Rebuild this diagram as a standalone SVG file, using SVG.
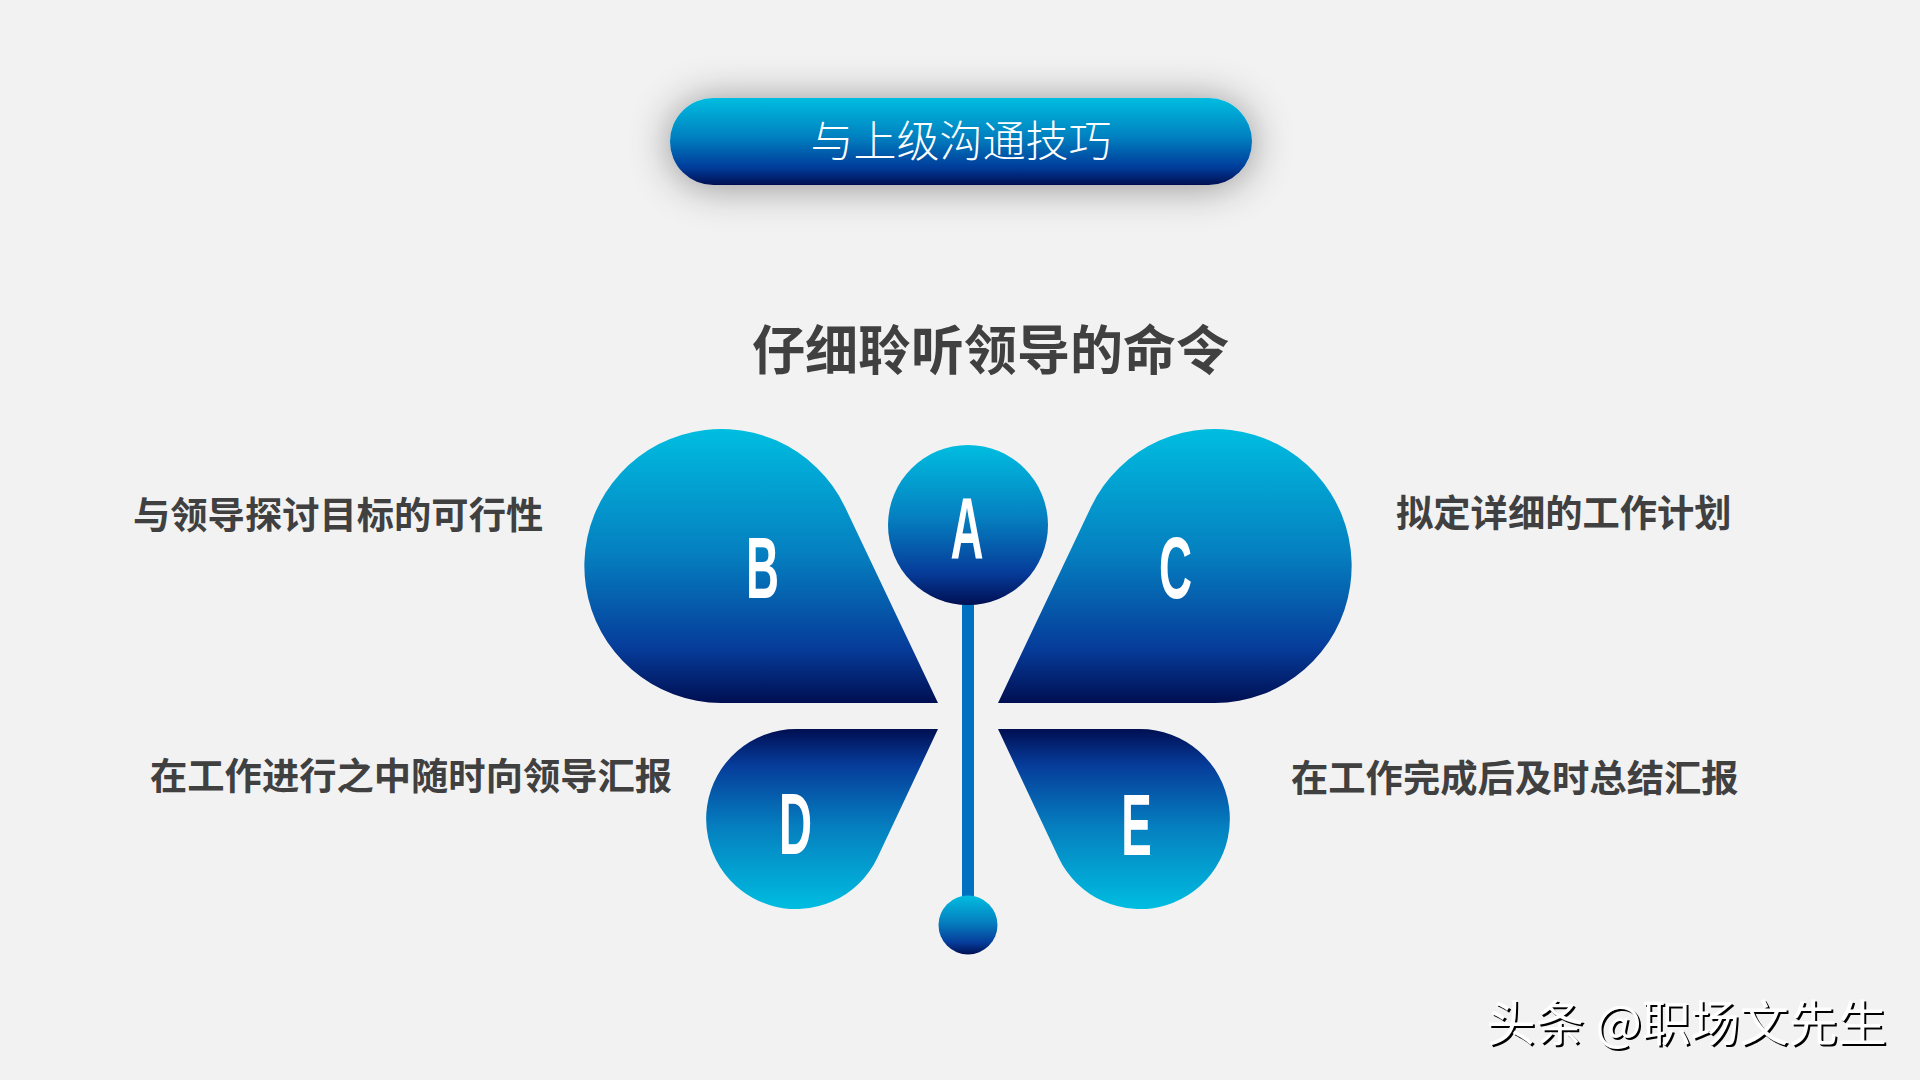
<svg xmlns="http://www.w3.org/2000/svg" width="1920" height="1080" viewBox="0 0 1920 1080">
  <defs>
    <linearGradient id="gDown" x1="0" y1="0" x2="0" y2="1">
      <stop offset="0" stop-color="#00bde0"/>
      <stop offset="0.45" stop-color="#0580c0"/>
      <stop offset="0.8" stop-color="#063c9a"/>
      <stop offset="1" stop-color="#000f52"/>
    </linearGradient>
    <linearGradient id="gUp" x1="0" y1="1" x2="0" y2="0">
      <stop offset="0" stop-color="#00bde0"/>
      <stop offset="0.45" stop-color="#0580c0"/>
      <stop offset="0.8" stop-color="#063c9a"/>
      <stop offset="1" stop-color="#000f52"/>
    </linearGradient>
    <filter id="pillShadow" x="-25%" y="-90%" width="150%" height="280%">
      <feDropShadow dx="0" dy="2" stdDeviation="20" flood-color="#000000" flood-opacity="0.4"/>
    </filter>
    <filter id="wmShadow" x="-5%" y="-20%" width="110%" height="140%">
      <feGaussianBlur stdDeviation="0.6"/>
    </filter>
    <style>
      .label { font-family: "Noto Sans CJK SC", "Liberation Sans", sans-serif; font-weight: 700; font-size: 37.3px; fill: #404040; }
      .letter { font-family: "Liberation Sans", "DejaVu Sans", sans-serif; font-weight: 700; font-size: 88px; fill: #ffffff; text-anchor: middle; }
      .wing-down { fill: url(#gDown); }
      .wing-up { fill: url(#gUp); }
    </style>
  </defs>

  <rect x="0" y="0" width="1920" height="1080" fill="#f2f2f2"/>

  <g id="title">
    <rect x="670" y="98" width="582" height="87" rx="43.5" ry="43.5" fill="url(#gDown)" filter="url(#pillShadow)"/>
    <text x="961" y="157" text-anchor="middle" font-family="Noto Sans CJK SC, Liberation Sans, sans-serif" font-weight="300" font-size="43" fill="#ffffff">与上级沟通技巧</text>
  </g>

  <g id="subtitle">
    <text x="752" y="370" font-family="Noto Sans CJK SC, Liberation Sans, sans-serif" font-weight="700" font-size="53" fill="#404040">仔细聆听领导的命令</text>
  </g>

  <g id="connectors">
    <line x1="968" y1="600" x2="968" y2="900" stroke="#0070c0" stroke-width="12"/>
  </g>

  <g id="node-B">
    <path class="wing-down" d="M938,703 L721,703 A137,137 0 1 1 845,507 Z"/>
    <text class="letter" transform="translate(762.5,598) scale(0.52,1)" x="0" y="0">B</text>
  </g>

  <g id="node-C">
    <path class="wing-down" d="M998,703 L1215,703 A137,137 0 1 0 1091,507 Z"/>
    <text class="letter" transform="translate(1175.5,598) scale(0.52,1)" x="0" y="0">C</text>
  </g>

  <g id="node-A">
    <circle cx="968" cy="525" r="80" fill="url(#gDown)"/>
    <text class="letter" transform="translate(967,558) scale(0.52,1)" x="0" y="0">A</text>
  </g>

  <g id="node-D">
    <path class="wing-up" d="M938,729 L796,729 A90,90 0 1 0 877.5,857.5 Z"/>
    <text class="letter" transform="translate(795.5,854) scale(0.52,1)" x="0" y="0">D</text>
  </g>

  <g id="node-E">
    <path class="wing-up" d="M998,729 L1140,729 A90,90 0 1 1 1058.5,857.5 Z"/>
    <text class="letter" transform="translate(1136.5,855) scale(0.52,1)" x="0" y="0">E</text>
  </g>

  <g id="node-end">
    <circle cx="968" cy="925" r="29.5" fill="url(#gDown)"/>
  </g>

  <g id="label-B">
    <text class="label" x="133" y="529">与领导探讨目标的可行性</text>
  </g>
  <g id="label-C">
    <text class="label" x="1396" y="527">拟定详细的工作计划</text>
  </g>
  <g id="label-D">
    <text class="label" x="150" y="790">在工作进行之中随时向领导汇报</text>
  </g>
  <g id="label-E">
    <text class="label" x="1291" y="792">在工作完成后及时总结汇报</text>
  </g>

  <g id="watermark" font-family="Noto Sans CJK SC, Liberation Sans, sans-serif" font-size="49" font-weight="400">
    <text x="1488.5" y="1043" fill="#000000" filter="url(#wmShadow)">头条 @职场文先生</text>
    <text x="1486.5" y="1041" fill="#ffffff">头条 @职场文先生</text>
  </g>
</svg>
